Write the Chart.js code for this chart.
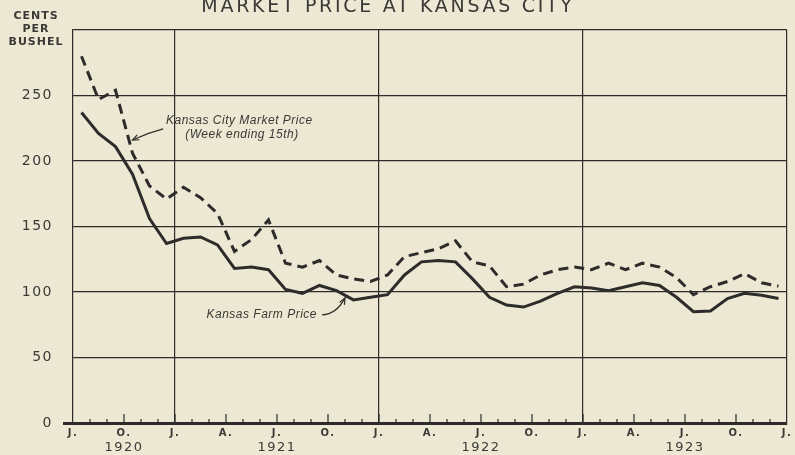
<!DOCTYPE html>
<html>
<head>
<meta charset="utf-8">
<script src="https://cdn.jsdelivr.net/npm/chart.js@4"></script>
<style>
html, body { margin: 0; padding: 0; background: #ece8d3; }
#wrap { width: 795px; height: 455px; }
</style>
</head>
<body>
<div id="wrap"><canvas id="wheat"></canvas></div>
<script>
// months counted from July 1920 (0) to December 1923 (41), plotted mid-month
const farmPrice = [237, 221, 211, 190, 156, 137, 141, 142, 136, 118, 119, 117,
	102, 99, 105, 101, 94, 96, 98, 113, 123, 124, 123, 110,
	96, 90, 88.5, 93, 99, 104, 103, 101, 104, 107, 105, 96,
	85, 85.5, 95, 99, 97.5, 95]
const marketPrice = [280, 247, 254, 206, 181, 171, 180, 172, 160, 131, 140, 155,
	122, 119, 124, 113, 110, 108, 113, 127, 130, 133, 139, 123,
	120, 104, 106, 113, 117, 119, 117, 122, 117, 122, 119, 111,
	98, 104, 108, 114, 107, 104.5]
const quarterLabels = ["J.", "O.", "J.", "A.", "J.", "O.", "J.", "A.", "J.", "O.", "J.", "A.", "J.", "O.", "J."]
const yearLabels = ["1920", "1921", "1922", "1923"]
const yearTicks = [3, 12, 24, 36]
const monthCount = 42

const ink = "#2d2c2a"
const paperColor = "#ece8d3"

const points = arr => arr.map((v, i) => ({ x: i + 0.5, y: v }))

const paper = {
	id: "paper",
	beforeDraw(chart) {
		const ctx = chart.ctx
		ctx.save()
		ctx.fillStyle = paperColor
		ctx.fillRect(0, 0, chart.width, chart.height)
		ctx.restore()
		// wide-set lettering of the old print, used for the axis labels too
		ctx.letterSpacing = "1.5px"
	}
}

function arrow(ctx, x1, y1, cx, cy, x2, y2) {
	ctx.beginPath()
	ctx.moveTo(x1, y1)
	ctx.quadraticCurveTo(cx, cy, x2, y2)
	ctx.stroke()
	const a = Math.atan2(y2 - cy, x2 - cx)
	ctx.beginPath()
	ctx.moveTo(x2 - 7 * Math.cos(a - 0.4), y2 - 7 * Math.sin(a - 0.4))
	ctx.lineTo(x2, y2)
	ctx.lineTo(x2 - 7 * Math.cos(a + 0.4), y2 - 7 * Math.sin(a + 0.4))
	ctx.stroke()
}

const notes = {
	id: "notes",
	afterDraw(chart) {
		const ctx = chart.ctx
		const xs = chart.scales.x, ys = chart.scales.y
		const px = v => xs.getPixelForValue(v), py = v => ys.getPixelForValue(v)
		ctx.save()

		// month and quarter ticks standing on the base line
		ctx.strokeStyle = ink
		ctx.lineWidth = 1.2
		for (let m = 1; m < monthCount; m++) {
			const len = m % 3 === 0 ? 9 : 4
			ctx.beginPath()
			ctx.moveTo(px(m), ys.bottom)
			ctx.lineTo(px(m), ys.bottom - len)
			ctx.stroke()
		}

		// title, cut off by the top of the page
		ctx.fillStyle = "#3a3936"
		ctx.textAlign = "center"
		ctx.textBaseline = "alphabetic"
		ctx.font = '19px "DejaVu Sans"'
		ctx.letterSpacing = "2.7px"
		ctx.fillText("MARKET PRICE AT KANSAS CITY", 388, 12)

		// unit label
		ctx.font = 'bold 11px "DejaVu Sans"'
		ctx.letterSpacing = "1px"
		ctx.textBaseline = "middle"
		ctx.fillText("CENTS", 36, 16)
		ctx.fillText("PER", 36, 29)
		ctx.fillText("BUSHEL", 36, 42)

		// series notes
		ctx.letterSpacing = "0.5px"
		ctx.font = 'italic 12px "Liberation Sans"'
		ctx.textAlign = "left"
		ctx.fillText("Kansas City Market Price", px(5.47), py(230.5))
		ctx.fillText("(Week ending 15th)", px(6.6), py(220))
		ctx.fillText("Kansas Farm Price", px(7.85), py(83))

		ctx.lineWidth = 1.2
		arrow(ctx, px(5.3), py(224.5), px(4.4), py(221.5), px(3.5), py(216))
		arrow(ctx, px(14.65), py(82.5), px(15.5), py(83), px(16.0), py(95.5))

		ctx.restore()
	}
}

new Chart(document.getElementById("wheat").getContext("2d"), {
	type: "line",
	data: {
		datasets: [
			{
				label: "Kansas City Market Price",
				data: points(marketPrice),
				borderColor: ink,
				borderWidth: 3,
				borderDash: [10, 6],
				pointRadius: 0,
				tension: 0
			},
			{
				label: "Kansas Farm Price",
				data: points(farmPrice),
				borderColor: ink,
				borderWidth: 3,
				pointRadius: 0,
				tension: 0
			}
		]
	},
	options: {
		responsive: true,
		maintainAspectRatio: false,
		animation: false,
		devicePixelRatio: 1,
		layout: {
			padding: { top: 30, right: 8, left: 0, bottom: 0 }
		},
		scales: {
			x: {
				type: "linear",
				position: "bottom",
				min: 0,
				max: monthCount,
				afterBuildTicks: scale => {
					scale.ticks = quarterLabels.map((_, i) => ({ value: i * 3 }))
				},
				afterFit: scale => { scale.height = 17 },
				ticks: {
					autoSkip: false,
					maxRotation: 0,
					padding: 4,
					color: "#3a3936",
					font: { family: "DejaVu Sans", size: 10, weight: "bold" },
					callback: v => quarterLabels[v / 3]
				},
				grid: {
					drawTicks: false,
					lineWidth: 1.2,
					color: c => (c.tick && c.tick.value % 12 === 6) ? ink : "rgba(0,0,0,0)"
				},
				border: { display: true, color: ink, width: 3 }
			},
			year: {
				type: "linear",
				position: "bottom",
				min: 0,
				max: monthCount,
				afterBuildTicks: scale => {
					scale.ticks = yearTicks.map(v => ({ value: v }))
				},
				afterFit: scale => { scale.height = 15 },
				ticks: {
					autoSkip: false,
					maxRotation: 0,
					padding: 0,
					color: "#3a3936",
					font: { family: "DejaVu Sans", size: 13 },
					callback: v => yearLabels[yearTicks.indexOf(v)]
				},
				grid: { display: false, drawTicks: false },
				border: { display: false }
			},
			y: {
				type: "linear",
				min: 0,
				max: 300,
				afterFit: scale => { scale.width = 73 },
				ticks: {
					stepSize: 50,
					padding: 10,
					color: "#3a3936",
					font: { family: "DejaVu Sans", size: 14 },
					callback: v => v === 300 ? "" : v
				},
				grid: {
					color: ink,
					lineWidth: c => c.tick && c.tick.value === 0 ? 3 : 1.2,
					tickLength: 10,
					tickColor: c => c.tick && c.tick.value === 0 ? ink : "rgba(0,0,0,0)",
					tickWidth: 3
				},
				border: { display: true, color: ink, width: 1.2 }
			}
		},
		plugins: {
			legend: { display: false },
			tooltip: { enabled: false }
		}
	},
	plugins: [paper, notes]
})
</script>
</body>
</html>
